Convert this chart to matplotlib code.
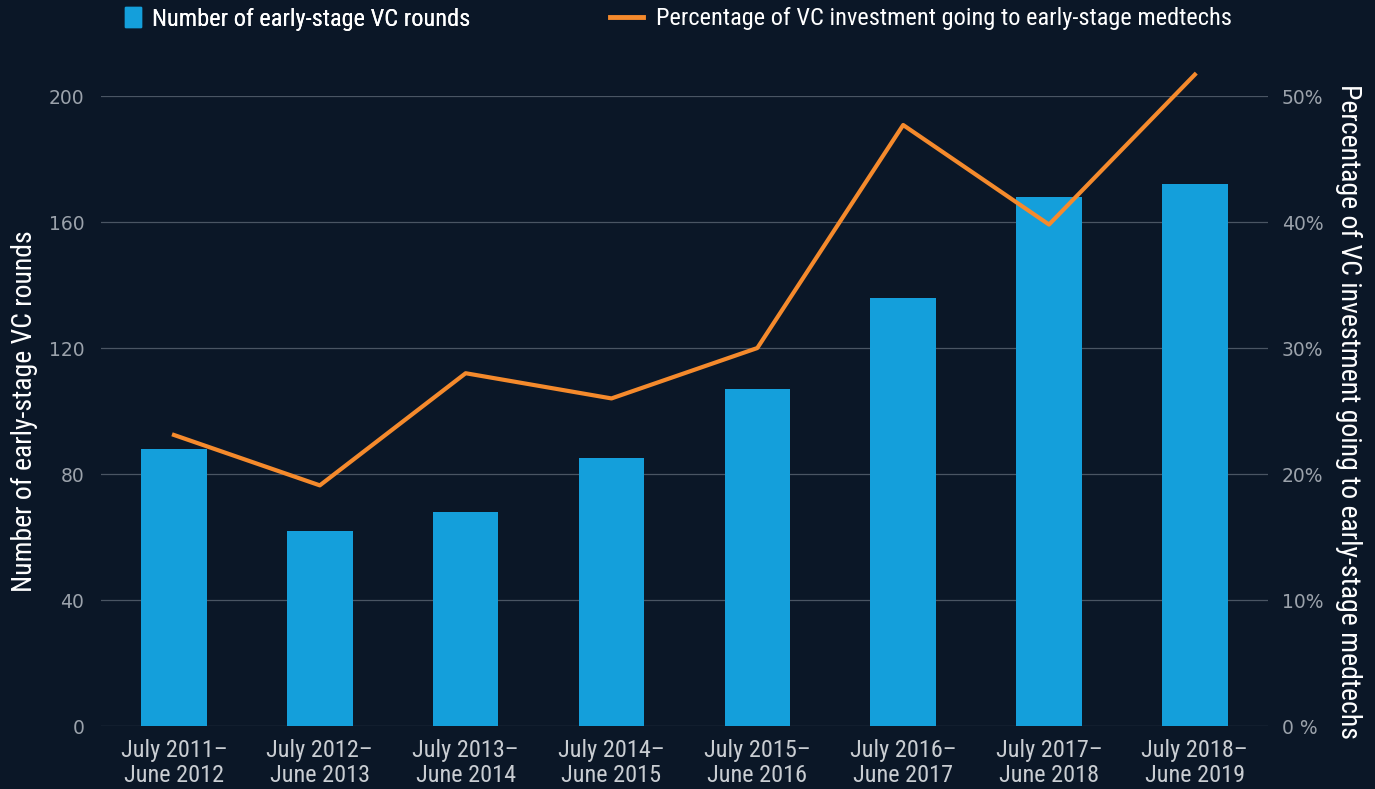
import matplotlib.pyplot as plt
from matplotlib.ticker import FuncFormatter
from matplotlib.lines import Line2D
from matplotlib.patches import Patch

# data
periods = ['July 2011–\nJune 2012', 'July 2012–\nJune 2013', 'July 2013–\nJune 2014',
           'July 2014–\nJune 2015', 'July 2015–\nJune 2016', 'July 2016–\nJune 2017',
           'July 2017–\nJune 2018', 'July 2018–\nJune 2019']
rounds = [88, 62, 68, 85, 107, 136, 168, 172]
pct_invest = [23.1, 19.1, 28.0, 26.0, 30.0, 47.7, 39.8, 51.7]

bg = '#0b1727'
bar_col = '#149fdb'
line_col = '#f58a2c'
tick_col = '#9ba2ab'
grid_col = '#4a5563'
narrow = ['Roboto Condensed', 'Roboto', 'DejaVu Sans']

fig = plt.figure(figsize=(13.75, 7.89), dpi=100, facecolor=bg)
ax1 = fig.add_axes([0.0735, 0.0798, 0.8485, 0.7985])
ax1.set_facecolor(bg)

x = range(len(periods))
ax1.bar(x, rounds, width=0.45, color=bar_col, zorder=2)
ax1.set_xlim(-0.5, len(periods) - 0.5)
ax1.set_ylim(0, 200)
ax1.set_yticks([0, 40, 80, 120, 160, 200])
ax1.grid(axis='y', color=grid_col, linewidth=0.9, zorder=0)
ax1.set_xticks(list(x))
ax1.set_xticklabels(periods, family=narrow, fontsize=17.5, color='#c9cdd2', linespacing=1.15)
ax1.tick_params(axis='x', length=0, pad=9)
ax1.tick_params(axis='y', length=0, labelsize=13.5, labelcolor=tick_col, pad=12)
for s in ax1.spines.values():
    s.set_visible(False)
ax1.set_ylabel('Number of early-stage VC rounds', family=narrow, fontsize=20,
               color='white', labelpad=8)

ax2 = ax1.twinx()
ax2.plot(x, pct_invest, color=line_col, linewidth=3, clip_on=False, zorder=3)
ax2.set_ylim(0, 50)
ax2.set_yticks([0, 10, 20, 30, 40, 50])
ax2.yaxis.set_major_formatter(FuncFormatter(lambda v, p: '0 %' if v == 0 else f'{v:.0f}%'))
ax2.tick_params(axis='y', length=0, labelsize=13.5, labelcolor=tick_col, pad=10)
for s in ax2.spines.values():
    s.set_visible(False)
ax2.set_ylabel('Percentage of VC investment going to early-stage medtechs', family=narrow,
               fontsize=20, color='white', rotation=270, labelpad=28)

# two legend entries placed separately so each handle keeps its own size
leg_kw = dict(loc='center left', frameon=False, prop={'family': narrow, 'size': 17.6},
              labelcolor='white', borderpad=0, borderaxespad=0)
leg1 = fig.legend([Patch(color=bar_col)], ['Number of early-stage VC rounds'],
                  bbox_to_anchor=(125 / 1375, 1 - 19 / 789), handlelength=0.66,
                  handleheight=0.85, handletextpad=0.45, **leg_kw)
fig.add_artist(leg1)
fig.legend([Line2D([0], [0], color=line_col, linewidth=3.5)],
           ['Percentage of VC investment going to early-stage medtechs'],
           bbox_to_anchor=(610 / 1375, 1 - 19 / 789), handlelength=1.35,
           handletextpad=0.53, **leg_kw)

fig.savefig('out.png', dpi=100, facecolor=bg)
